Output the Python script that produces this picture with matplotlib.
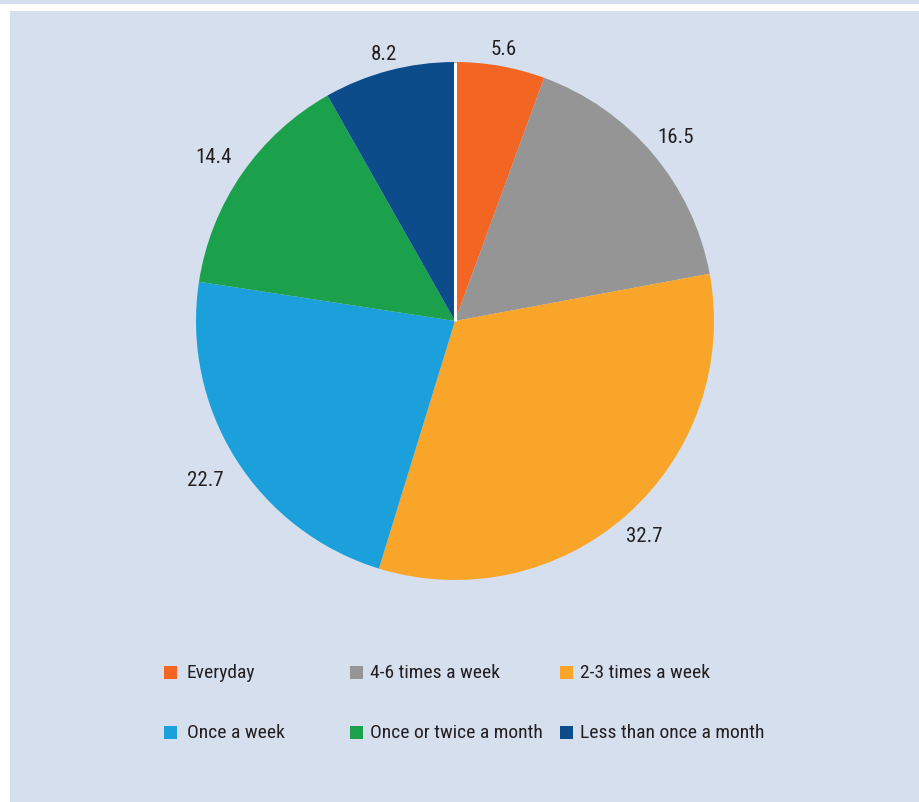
import matplotlib
matplotlib.use("Agg")
import matplotlib.pyplot as plt
from matplotlib.patches import Rectangle
import numpy as np

categories = ["Everyday", "4-6 times a week", "2-3 times a week",
              "Once a week", "Once or twice a month", "Less than once a month"]
values = [5.6, 16.5, 32.7, 22.7, 14.4, 8.2]
value_labels = ["5.6", "16.5", "32.7", "22.7", "14.4", "8.2"]
colors = ["#f26522", "#959595", "#f9a52a", "#1ca0db", "#1ba04c", "#0c4c8b"]

BG = "#d5dfee"
TXT = "#231f20"
plt.rcParams['font.family'] = ['Roboto Condensed', 'DejaVu Sans']

W, H = 920, 803
fig = plt.figure(figsize=(W / 100, H / 100), dpi=100, facecolor="white")

def fx(px): return px / W
def fy(py): return 1 - py / H

fig.patches.append(Rectangle((fx(10), 0), 1 - fx(10), fy(12), transform=fig.transFigure,
                             facecolor=BG, edgecolor="none", zorder=-5))
fig.patches.append(Rectangle((0, fy(5)), 1, 1 - fy(5), transform=fig.transFigure,
                             facecolor=BG, edgecolor="none", zorder=-5))

cx, cy, r = 455, 322, 259
lim = 1.25
side = 2 * lim * r
label_fs = 15
ax = fig.add_axes([fx(cx - side / 2), fy(cy + side / 2), side / W, side / H])
ax.set_facecolor("none")
wedges, texts = ax.pie(values, labels=value_labels, colors=colors, startangle=90,
                       counterclock=False, labeldistance=1.11,
                       wedgeprops=dict(linewidth=0),
                       textprops=dict(fontsize=label_fs, color=TXT))
ax.set_xlim(-lim, lim)
ax.set_ylim(-lim, lim)
ax.axis("off")
ax.plot([0, 0], [0, 1.0], color="white", lw=2.2, solid_capstyle="butt")

# "outside end" labels: padded glyph box sits just beyond the rim
fig.canvas.draw()
renderer = fig.canvas.get_renderer()
pad = 12
cap = label_fs * 100 / 72 * 0.711
for w, t in zip(wedges, texts):
    t.set_ha("center")
    t.set_va("baseline")
    th = np.deg2rad((w.theta1 + w.theta2) / 2)
    bb = t.get_window_extent(renderer)
    hw, hh = bb.width / 2 + pad, cap / 2 + pad
    c, s = abs(np.cos(th)), abs(np.sin(th))
    ext = min(hw / c if c > 1e-6 else 1e9, hh / s if s > 1e-6 else 1e9)
    d = (r + ext) / r
    t.set_position((d * np.cos(th), d * np.sin(th) - (cap / 2) / r))

col_sq = [164, 350, 560]
col_tx = [187, 370, 580]
row_y = [673, 733]
sq = 13
for i, (cat, col) in enumerate(zip(categories, colors)):
    row, c = divmod(i, 3)
    y = row_y[row]
    fig.patches.append(Rectangle((fx(col_sq[c]), fy(y + sq / 2)), sq / W, sq / H,
                                 transform=fig.transFigure, facecolor=col,
                                 edgecolor="none", zorder=5))
    fig.text(fx(col_tx[c]), fy(y), cat, ha="left", va="center", fontsize=14, color=TXT)

fig.savefig("out.png", dpi=100, facecolor=fig.get_facecolor())
